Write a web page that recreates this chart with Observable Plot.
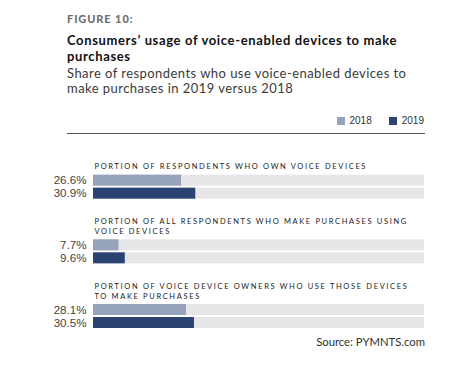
<!DOCTYPE html>
<html>
<head>
<meta charset="utf-8">
<script src="https://cdn.jsdelivr.net/npm/d3@7"></script>
<script src="https://cdn.jsdelivr.net/npm/@observablehq/plot@0.6"></script>
<style>
  html, body { margin: 0; padding: 0; background: #fff; }
  #wrap { position: relative; width: 455px; height: 369px; overflow: hidden; font-family: Lato, "Open Sans", sans-serif; }
  .abs { position: absolute; white-space: nowrap; }
  #fig { left: 67px; top: 12px; font-size: 11px; font-weight: 900; color: #707070; letter-spacing: 0.9px; }
  .title { left: 67px; font-size: 13px; font-weight: 700; color: #111; line-height: 13px; letter-spacing: 0.64px; }
  #t1 { top: 34.3px; }
  #t2 { top: 50px; }
  .sub { left: 67px; font-size: 13px; font-weight: 400; color: #3a3a3a; line-height: 15px; letter-spacing: 0.45px; }
  #s1 { top: 65.5px; }
  #s2 { top: 80.5px; }
  #legend { right: 31px; top: 114px; font-size: 10px; color: #333; display: flex; align-items: center; font-family: "Liberation Sans", Arial, sans-serif; line-height: 13px; }
  #legend .sw { display: inline-block; width: 8px; height: 8px; margin-right: 5px; }
  #legend .item { display: flex; align-items: center; margin-left: 17px; }
  #legend .item:first-child { margin-left: 0; }
  #rule { left: 67px; top: 133px; width: 358px; height: 0; border-top: 1.3px solid #555; }
  #chart { left: 0; top: 134px; }
  #source { right: 30px; top: 335px; font-size: 11.3px; color: #333; }
</style>
</head>
<body>
<div id="wrap">
  <div id="fig" class="abs">FIGURE 10:</div>
  <div id="t1" class="abs title">Consumers’ usage of voice-enabled devices to make</div>
  <div id="t2" class="abs title">purchases</div>
  <div id="s1" class="abs sub">Share of respondents who use voice-enabled devices to</div>
  <div id="s2" class="abs sub">make purchases in 2019 versus 2018</div>
  <div id="legend" class="abs"></div>
  <div id="rule" class="abs"></div>
  <div id="chart" class="abs"></div>
  <div id="source" class="abs">Source: PYMNTS.com</div>
</div>
<script>
// Data
const groups = [
  "PORTION OF RESPONDENTS WHO OWN VOICE DEVICES",
  "PORTION OF ALL RESPONDENTS WHO MAKE PURCHASES USING\nVOICE DEVICES",
  "PORTION OF VOICE DEVICE OWNERS WHO USE THOSE DEVICES\nTO MAKE PURCHASES"
];
const years = ["2018", "2019"];
const values2018 = [26.6, 7.7, 28.1];
const values2019 = [30.9, 9.6, 30.5];
const colors = ["#97a2bb", "#2b4372"];

const rows = [];
groups.forEach((g, i) => {
  rows.push({group: g, year: "2018", value: values2018[i]});
  rows.push({group: g, year: "2019", value: values2019[i]});
});
const groupRows = groups.map(g => ({group: g}));

// Legend
const legend = document.getElementById("legend");
years.forEach((y, i) => {
  const item = document.createElement("span");
  item.className = "item";
  item.innerHTML = `<span class="sw" style="background:${colors[i]}"></span>${y}`;
  legend.appendChild(item);
});

const chart = Plot.plot({
  width: 455,
  height: 196,
  marginTop: 0,
  marginBottom: 2,
  marginLeft: 93,
  marginRight: 31,
  style: {fontFamily: "Lato, sans-serif", background: "transparent"},
  x: {domain: [0, 100], axis: null},
  y: {domain: years, axis: null, paddingInner: 2 / 13, paddingOuter: 0, insetTop: 40.67, round: false},
  fy: {domain: groups, axis: null, padding: 0, round: false},
  color: {domain: years, range: colors},
  facet: {data: rows, y: "group"},
  marks: [
    Plot.barX(rows, {y: "year", x: () => 100, fill: "#e6e6e8"}),
    Plot.barX(rows, {y: "year", x: "value", fill: "year"}),
    Plot.text(rows, {
      y: "year", x: () => 0, text: d => d.value.toFixed(1) + "%",
      textAnchor: "end", dx: -7, fontSize: 11.6, fill: "#444",
      fontFamily: "Liberation Sans, Arial, sans-serif"
    }),
    Plot.text(groupRows, {
      fy: "group",
      y: () => "2018", x: () => 0, text: "group",
      textAnchor: "start", lineAnchor: "bottom", dy: -11.5, dx: 1,
      fontSize: 7.5, fill: "#222", lineHeight: 1.3
    })
  ]
});
document.getElementById("chart").appendChild(chart);

// letter-spacing for the group labels
chart.querySelectorAll("text").forEach(t => {
  if (t.textContent.startsWith("PORTION")) t.setAttribute("letter-spacing", "1.65");
});
</script>
</body>
</html>
